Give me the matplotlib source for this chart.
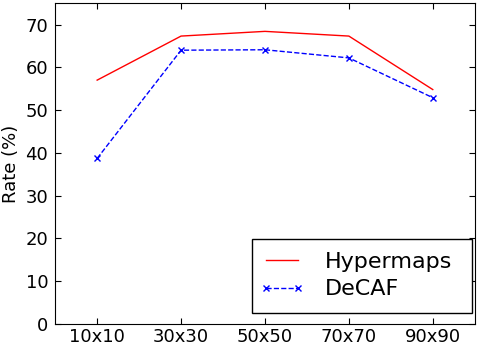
import matplotlib
matplotlib.use("Agg")
import matplotlib.pyplot as plt
from matplotlib.legend_handler import HandlerLine2D

categories = ["10x10", "30x30", "50x50", "70x70", "90x90"]
hypermaps = [57.0, 67.3, 68.4, 67.3, 54.8]
decaf = [38.7, 64.0, 64.1, 62.2, 52.9]
yticks = [0, 10, 20, 30, 40, 50, 60, 70]

fig = plt.figure(figsize=(4.8, 3.48), dpi=100)
ax = fig.add_axes([0.115, 0.069, 0.874, 0.922])
x = list(range(len(categories)))
l1, = ax.plot(x, hypermaps, color="red", linestyle="-", linewidth=1, label="Hypermaps")
l2, = ax.plot(x, decaf, color="blue", linestyle="--", linewidth=1, marker="x",
              markersize=5, label="DeCAF")
ax.set_xlim(-0.5, 4.5)
ax.set_ylim(0, 75)
ax.set_xticks(x)
ax.set_xticklabels(categories)
ax.set_yticks(yticks)
ax.tick_params(direction="in", top=True, right=True, labelsize=13, length=4, pad=3)
ax.tick_params(axis="y", pad=5)
ax.set_ylabel("Rate (%)", fontsize=13)
hm = {l1: HandlerLine2D(marker_pad=0.05), l2: HandlerLine2D(marker_pad=0.05)}
leg = ax.legend(loc="lower left", bbox_to_anchor=(0.469, 0.035, 0.5246, 0.2),
                mode="expand", fontsize=16, fancybox=False, handlelength=1.5,
                handletextpad=1.2, framealpha=1, borderpad=0.6,
                borderaxespad=0, labelspacing=0.33, numpoints=2, handler_map=hm)
leg.get_frame().set_edgecolor("black")
fig.savefig("out.png", dpi=100)
